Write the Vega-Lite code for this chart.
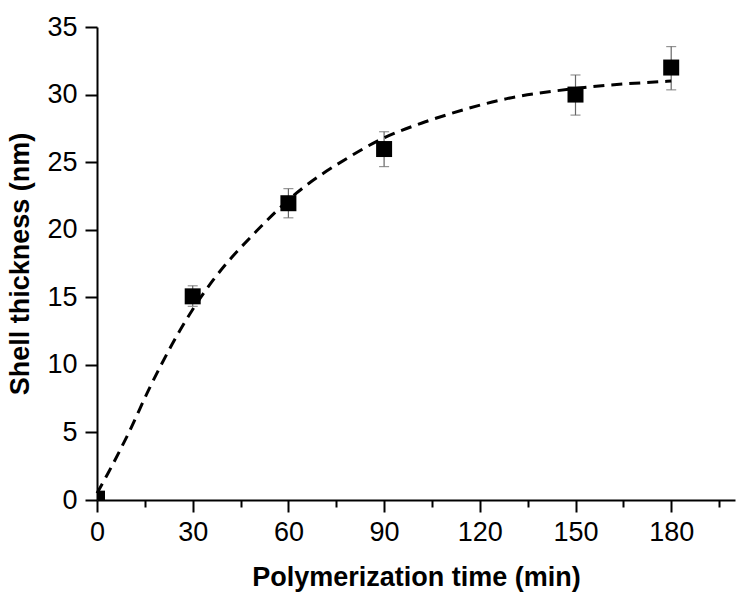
{
  "$schema": "https://vega.github.io/schema/vega-lite/v6.json",
  "autosize": {"type": "none"},
  "padding": {"left": 97, "top": 27, "right": 15, "bottom": 104},
  "width": 638,
  "height": 473,
  "background": "white",
  "config": {
    "view": {"stroke": null},
    "font": "Liberation Sans",
    "axis": {
      "grid": false,
      "labelFlush": false,
      "domainColor": "black",
      "domainWidth": 2,
      "tickColor": "black",
      "tickWidth": 2,
      "labelFont": "Liberation Sans",
      "labelFontSize": 27,
      "labelColor": "black",
      "titleFont": "Liberation Sans",
      "titleFontSize": 27,
      "titleFontWeight": "bold",
      "titleColor": "black"
    }
  },
  "datasets": {
    "pts": [
      {"t": 0, "y": 0.1},
      {"t": 30, "y": 15.07},
      {"t": 60, "y": 21.96},
      {"t": 90, "y": 25.97},
      {"t": 150, "y": 30.0},
      {"t": 180, "y": 32.0}
    ],
    "err": [
      {"t": 30, "lo": 14.33, "hi": 15.85},
      {"t": 60, "lo": 20.88, "hi": 23.04},
      {"t": 90, "lo": 24.67, "hi": 27.25},
      {"t": 150, "lo": 28.48, "hi": 31.45},
      {"t": 180, "lo": 30.35, "hi": 33.55}
    ],
    "fit": [
      {"t": 0, "y": 0.5},
      {"t": 3.5, "y": 2.0},
      {"t": 10, "y": 5.0},
      {"t": 16.5, "y": 8.3},
      {"t": 23.5, "y": 11.5},
      {"t": 30, "y": 14.1},
      {"t": 36.5, "y": 16.3},
      {"t": 50, "y": 19.9},
      {"t": 62.5, "y": 22.7},
      {"t": 78.5, "y": 25.3},
      {"t": 90, "y": 26.8},
      {"t": 102.5, "y": 27.95},
      {"t": 111, "y": 28.6},
      {"t": 128.5, "y": 29.7},
      {"t": 150, "y": 30.45},
      {"t": 180, "y": 31.0}
    ]
  },
  "layer": [
    {
      "data": {"name": "err"},
      "mark": {"type": "rule", "color": "#666666", "strokeWidth": 1.2},
      "encoding": {
        "x": {
          "field": "t", "type": "quantitative",
          "scale": {"domain": [0, 200], "nice": false},
          "axis": {
            "title": "Polymerization time (min)",
            "values": [0, 15, 30, 45, 60, 75, 90, 105, 120, 135, 150, 165, 180, 195],
            "labelExpr": "datum.value % 30 === 0 ? datum.label : ''",
            "tickSize": {"condition": {"test": "datum.value % 30 === 0", "value": 12}, "value": 7},
            "labelPadding": 7,
            "titlePadding": 19
          }
        },
        "y": {
          "field": "lo", "type": "quantitative",
          "scale": {"domain": [0, 35], "nice": false},
          "axis": {
            "title": "Shell thickness (nm)",
            "values": [0, 2.5, 5, 7.5, 10, 12.5, 15, 17.5, 20, 22.5, 25, 27.5, 30, 32.5, 35],
            "labelExpr": "datum.value % 5 === 0 ? datum.label : ''",
            "tickSize": {"condition": {"test": "datum.value % 5 === 0", "value": 12}, "value": 7},
            "labelPadding": 8,
            "titlePadding": 12
          }
        },
        "y2": {"field": "hi"}
      }
    },
    {
      "data": {"name": "err"},
      "mark": {"type": "tick", "orient": "horizontal", "color": "#666666", "size": 10, "thickness": 1.2},
      "encoding": {
        "x": {"field": "t", "type": "quantitative"},
        "y": {"field": "lo", "type": "quantitative"}
      }
    },
    {
      "data": {"name": "err"},
      "mark": {"type": "tick", "orient": "horizontal", "color": "#666666", "size": 10, "thickness": 1.2},
      "encoding": {
        "x": {"field": "t", "type": "quantitative"},
        "y": {"field": "hi", "type": "quantitative"}
      }
    },
    {
      "data": {"name": "pts"},
      "mark": {"type": "point", "shape": "square", "filled": true, "color": "black", "opacity": 1, "size": 256, "clip": true},
      "encoding": {
        "x": {"field": "t", "type": "quantitative"},
        "y": {"field": "y", "type": "quantitative"}
      }
    },
    {
      "data": {"name": "fit"},
      "mark": {"type": "line", "color": "black", "strokeWidth": 3, "strokeDash": [11, 7], "interpolate": "monotone"},
      "encoding": {
        "x": {"field": "t", "type": "quantitative"},
        "y": {"field": "y", "type": "quantitative"}
      }
    }
  ]
}
